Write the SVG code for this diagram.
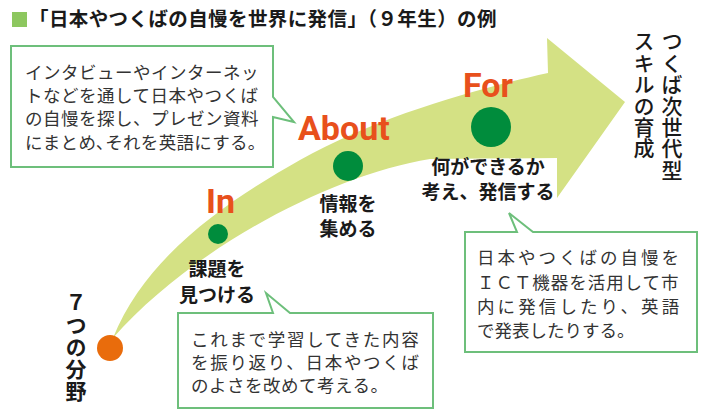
<svg xmlns="http://www.w3.org/2000/svg" width="702" height="410" viewBox="0 0 702 410">
<style>
.jp{font-family:"Noto Sans CJK JP","Noto Sans",sans-serif;}
.title{font-size:19.5px;font-weight:bold;fill:#1a1a1a;letter-spacing:0.4px;}
.lbl{font-size:19px;font-weight:bold;fill:#1a1a1a;text-anchor:middle;}
.stage{font-family:Roboto,"Liberation Sans",sans-serif;font-size:34px;font-weight:bold;fill:#e8501c;}
.co{font-size:17.5px;fill:#333333;}
.box{fill:#ffffff;stroke:#6dbf7b;stroke-width:2;}
.vt{font-size:21px;font-weight:500;fill:#1a1a1a;writing-mode:vertical-rl;text-orientation:upright;letter-spacing:0.4px;}
.vb{font-size:21px;font-weight:bold;fill:#1a1a1a;writing-mode:vertical-rl;text-orientation:upright;letter-spacing:1.2px;}
.dot{fill:#008c3c;}
</style>

<g id="title">
  <rect x="12" y="12" width="15" height="15" fill="#8dc75f"/>
  <text class="jp title" x="29" y="26">「日本やつくばの自慢を世界に発信」（９年生）の例</text>
</g>

<g id="connectors">
  <path d="M113,338 C148,250 240,194 300,160 C380,115 480,88 548,73 L547,38 L625,102 L557,198 L557,158 L430,159 C330,175 190,250 113,338 Z" fill="#d4e184"/>
</g>

<g id="start">
  <circle cx="110" cy="348" r="13" fill="#e96c0c"/>
  <text class="jp vb" x="76" y="292">７つの分野</text>
</g>

<g id="node-in">
  <text class="stage" x="206" y="213">In</text>
  <circle class="dot" cx="218" cy="234" r="10"/>
  <text class="jp lbl" x="217" y="276">課題を</text>
  <text class="jp lbl" x="217" y="302">見つける</text>
</g>

<g id="node-about">
  <text class="stage" x="298" y="140">About</text>
  <circle class="dot" cx="348" cy="166" r="15"/>
  <text class="jp lbl" x="348" y="211">情報を</text>
  <text class="jp lbl" x="348" y="236">集める</text>
</g>

<g id="node-for">
  <text class="stage" x="463" y="97">For</text>
  <circle class="dot" cx="491" cy="127" r="20"/>
  <text class="jp lbl" x="488" y="174">何ができるか</text>
  <text class="jp lbl" x="488" y="199">考え、発信する</text>
</g>

<g id="goal">
  <text class="jp vt" x="672" y="31">つくば次世代型</text>
  <text class="jp vt" x="644" y="31">スキルの育成</text>
</g>

<g id="callout-about">
  <path class="box" d="M11,46 H273 V97 L294,122 L273,117 V167 H11 Z"/>
  <text class="jp co" letter-spacing="0.5">
    <tspan x="25" y="79">インタビューやインターネッ</tspan>
    <tspan x="25" y="102">トなどを通して日本やつくば</tspan>
    <tspan x="25" y="125">の自慢を探し、プレゼン資料</tspan>
    <tspan x="25" y="149" letter-spacing="0.3">にまとめ､それを英語にする。</tspan>
  </text>
</g>

<g id="callout-in">
  <path class="box" d="M178,313 H273 L266,293 L290,313 H433 V408 H178 Z"/>
  <text class="jp co">
    <tspan x="191" y="346" letter-spacing="1.7">これまで学習してきた内容</tspan>
    <tspan x="191" y="369" letter-spacing="1.7">を振り返り、日本やつくば</tspan>
    <tspan x="191" y="392" letter-spacing="0.5">のよさを改めて考える。</tspan>
  </text>
</g>

<g id="callout-for">
  <path class="box" d="M465,232 H517 L509,213 L533,232 H697 V352 H465 Z"/>
  <text class="jp co">
    <tspan x="477" y="264" letter-spacing="3">日本やつくばの自慢を</tspan>
    <tspan x="477" y="289" letter-spacing="0.95">ＩＣＴ機器を活用して市</tspan>
    <tspan x="477" y="313" letter-spacing="3.1">内に発信したり、英語</tspan>
    <tspan x="477" y="337">で発表したりする。</tspan>
  </text>
</g>
</svg>
